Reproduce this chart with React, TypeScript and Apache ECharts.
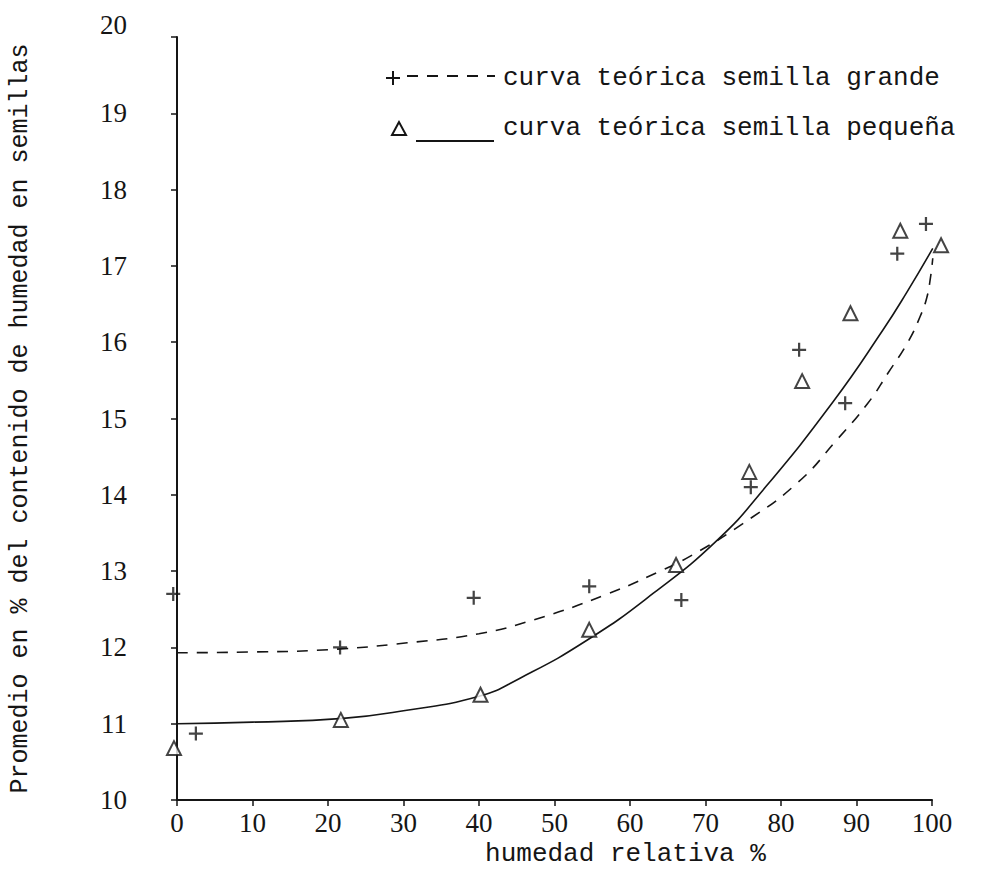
import React, { useEffect, useRef } from "react";
import * as echarts from "echarts";

const xTicks = [0, 10, 20, 30, 40, 50, 60, 70, 80, 90, 100];
const yTicks = [10, 11, 12, 13, 14, 15, 16, 17, 18, 19, 20];

// observed points, semilla grande (+)
const grandePoints: [number, number][] = [
  [-0.5, 12.7], [2.5, 10.87], [21.6, 12.0], [39.3, 12.65], [54.6, 12.8],
  [66.8, 12.62], [76.0, 14.1], [82.4, 15.9], [88.5, 15.2], [95.4, 17.16], [99.2, 17.55],
];
// observed points, semilla pequeña (triangle)
const pequenaPoints: [number, number][] = [
  [-0.4, 10.68], [21.7, 11.05], [40.2, 11.38], [54.6, 12.23], [66.1, 13.08],
  [75.8, 14.3], [82.8, 15.49], [89.2, 16.38], [95.8, 17.46], [101.2, 17.27],
];
// theoretical curve, semilla grande (dashed)
const curvaGrande: [number, number][] = [
  [0, 11.93], [10, 11.94], [20, 11.97], [30.5, 12.06], [40, 12.18], [47.2, 12.36],
  [56.5, 12.68], [64, 13.0], [68.4, 13.22], [74.9, 13.62], [82.1, 14.15], [87.4, 14.72],
  [91.5, 15.2], [94.2, 15.6], [96.8, 16.0], [98.4, 16.33], [99.3, 16.58], [99.8, 16.85], [100.1, 17.1],
];
// theoretical curve, semilla pequeña (solid)
const curvaPequena: [number, number][] = [
  [0, 11.0], [10, 11.02], [22, 11.07], [30, 11.17], [40, 11.36], [45.5, 11.6],
  [54.4, 12.1], [63.1, 12.71], [71.6, 13.41], [77.6, 14.06], [86.9, 15.22],
  [93.5, 16.16], [96.7, 16.66], [100.1, 17.23],
];

const legendLabels = ["curva teórica semilla grande", "curva teórica semilla pequeña"];
const xAxisName = "humedad relativa %";
const yAxisName = "Promedio en % del contenido de humedad en semillas";

const INK = "#151515";
const MONO = "'Liberation Mono', 'DejaVu Sans Mono', monospace";
const SERIF = "'Liberation Serif', 'DejaVu Serif', serif";
const PLUS = "path://M4.2,0H5.8V4.2H10V5.8H5.8V10H4.2V5.8H0V4.2H4.2Z";

export default function App() {
  const ref = useRef<HTMLDivElement>(null);
  useEffect(() => {
    if (!ref.current) return;
    const chart = echarts.init(ref.current, null, { renderer: "svg" });
    chart.setOption({
      animation: false,
      backgroundColor: "#ffffff",
      grid: { left: 176, right: 52, top: 37, bottom: 82 },
      xAxis: {
        type: "value",
        min: 0,
        max: 100,
        interval: 10,
        name: xAxisName,
        nameLocation: "middle",
        nameGap: 38,
        nameTextStyle: { fontFamily: MONO, fontSize: 26, color: INK, padding: [0, 0, 0, 142] },
        axisLine: { onZero: false, lineStyle: { color: INK, width: 2 } },
        axisTick: { show: true, length: 6, lineStyle: { color: INK, width: 1.5 } },
        axisLabel: {
          margin: 9,
          fontFamily: SERIF,
          fontSize: 27,
          color: INK,
          formatter: (v: number) => (xTicks.includes(v) ? String(v) : ""),
        },
        splitLine: { show: false },
      },
      yAxis: {
        type: "value",
        min: 10,
        max: 20,
        interval: 1,
        name: yAxisName,
        nameLocation: "middle",
        nameGap: 144,
        nameTextStyle: { fontFamily: MONO, fontSize: 25, color: INK },
        axisLine: { onZero: false, lineStyle: { color: INK, width: 2 } },
        axisTick: { show: true, length: 6, lineStyle: { color: INK, width: 1.5 } },
        axisLabel: {
          margin: 50,
          fontFamily: SERIF,
          fontSize: 27,
          color: INK,
          formatter: (v: number) =>
            yTicks.includes(v) ? (v === 20 ? "{top|" + v + "}" : String(v)) : "",
          rich: {
            top: { fontFamily: SERIF, fontSize: 27, color: INK, padding: [0, 0, 24, 0] },
          },
        },
        splitLine: { show: false },
      },
      series: [
        {
          name: legendLabels[0],
          type: "line",
          data: curvaGrande,
          smooth: 0.5,
          showSymbol: false,
          symbol: "none",
          lineStyle: { color: INK, width: 1.6, type: [11, 9] },
          z: 2,
        },
        {
          name: legendLabels[1],
          type: "line",
          data: curvaPequena,
          smooth: 0.5,
          showSymbol: false,
          symbol: "none",
          lineStyle: { color: INK, width: 1.6 },
          z: 2,
        },
        {
          name: "grande",
          type: "scatter",
          data: grandePoints,
          symbol: PLUS,
          symbolSize: 14,
          clip: false,
          itemStyle: { color: INK },
          z: 3,
        },
        {
          name: "pequeña",
          type: "scatter",
          data: pequenaPoints,
          symbol: "triangle",
          symbolSize: 14,
          clip: false,
          itemStyle: { color: "#ffffff", borderColor: INK, borderWidth: 2 },
          z: 3,
        },
      ],
      graphic: [
        // legend line 1
        { type: "rect", shape: { x: 386, y: 77, width: 14, height: 2 }, style: { fill: INK } },
        { type: "rect", shape: { x: 392, y: 71, width: 2, height: 14 }, style: { fill: INK } },
        {
          type: "line",
          shape: { x1: 407, y1: 76, x2: 495, y2: 76 },
          style: { stroke: INK, lineWidth: 2, lineDash: [11, 9] },
        },
        {
          type: "text",
          x: 503,
          y: 78,
          style: { text: legendLabels[0], fontFamily: MONO, fontSize: 26, fill: INK, verticalAlign: "middle" },
        },
        // legend line 2
        {
          type: "polygon",
          shape: { points: [[399, 122], [392, 135], [406, 135]] },
          style: { fill: "#fff", stroke: INK, lineWidth: 2 },
        },
        {
          type: "line",
          shape: { x1: 416, y1: 141, x2: 494, y2: 141 },
          style: { stroke: INK, lineWidth: 1.8 },
        },
        {
          type: "text",
          x: 503,
          y: 128,
          style: { text: legendLabels[1], fontFamily: MONO, fontSize: 26, fill: INK, verticalAlign: "middle" },
        },
      ],
    });
    return () => chart.dispose();
  }, []);
  return (
    <div
      ref={ref}
      style={{ position: "fixed", left: 0, top: 0, width: 984, height: 882, background: "#fff" }}
    />
  );
}
